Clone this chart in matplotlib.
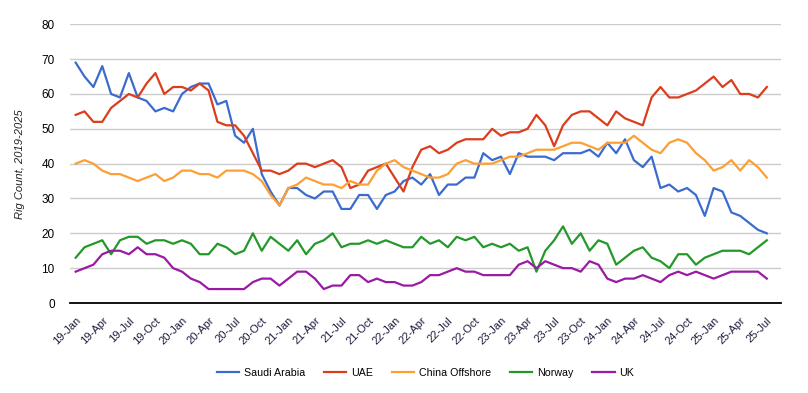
import matplotlib
matplotlib.use("Agg")
import matplotlib.pyplot as plt
import numpy as np

plt.rcParams['font.family'] = ['Liberation Sans', 'DejaVu Sans']

years = list(range(19, 26))
months = ['Jan', 'Feb', 'Mar', 'Apr', 'May', 'Jun', 'Jul', 'Aug', 'Sep', 'Oct', 'Nov', 'Dec']
dates = [f"{y}-{m}" for y in years for m in months][:79]

saudi = [69, 65, 62, 68, 60, 59, 66, 59, 58, 55, 56, 55, 60, 62, 63, 63, 57, 58, 48, 46, 50, 37, 32, 28, 33, 33,
         31, 30, 32, 32, 27, 27, 31, 31, 27, 31, 32, 35, 36, 34, 37, 31, 34, 34, 36, 36, 43, 41, 42, 37, 43, 42,
         42, 42, 41, 43, 43, 43, 44, 42, 46, 43, 47, 41, 39, 42, 33, 34, 32, 33, 31, 25, 33, 32, 26, 25, 23, 21, 20]
uae = [54, 55, 52, 52, 56, 58, 60, 59, 63, 66, 60, 62, 62, 61, 63, 61, 52, 51, 51, 48, 43, 38, 38, 37, 38, 40,
       40, 39, 40, 41, 39, 33, 34, 38, 39, 40, 36, 32, 39, 44, 45, 43, 44, 46, 47, 47, 47, 50, 48, 49, 49, 50,
       54, 51, 45, 51, 54, 55, 55, 53, 51, 55, 53, 52, 51, 59, 62, 59, 59, 60, 61, 63, 65, 62, 64, 60, 60, 59, 62]
china = [40, 41, 40, 38, 37, 37, 36, 35, 36, 37, 35, 36, 38, 38, 37, 37, 36, 38, 38, 38, 37, 35, 31, 28, 33, 34,
         36, 35, 34, 34, 33, 35, 34, 34, 38, 40, 41, 39, 38, 37, 36, 36, 37, 40, 41, 40, 40, 40, 41, 42, 42, 43,
         44, 44, 44, 45, 46, 46, 45, 44, 46, 46, 46, 48, 46, 44, 43, 46, 47, 46, 43, 41, 38, 39, 41, 38, 41, 39, 36]
norway = [13, 16, 17, 18, 14, 18, 19, 19, 17, 18, 18, 17, 18, 17, 14, 14, 17, 16, 14, 15, 20, 15, 19, 17, 15, 18,
          14, 17, 18, 20, 16, 17, 17, 18, 17, 18, 17, 16, 16, 19, 17, 18, 16, 19, 18, 19, 16, 17, 16, 17, 15, 16,
          9, 15, 18, 22, 17, 20, 15, 18, 17, 11, 13, 15, 16, 13, 12, 10, 14, 14, 11, 13, 14, 15, 15, 15, 14, 16, 18]
uk = [9, 10, 11, 14, 15, 15, 14, 16, 14, 14, 13, 10, 9, 7, 6, 4, 4, 4, 4, 4, 6, 7, 7, 5, 7, 9,
      9, 7, 4, 5, 5, 8, 8, 6, 7, 6, 6, 5, 5, 6, 8, 8, 9, 10, 9, 9, 8, 8, 8, 8, 11, 12,
      10, 12, 11, 10, 10, 9, 12, 11, 7, 6, 7, 7, 8, 7, 6, 8, 9, 8, 9, 8, 7, 8, 9, 9, 9, 9, 7]

series = [
    ("Saudi Arabia", saudi, '#3c6bcf'),
    ("UAE", uae, '#db3d1d'),
    ("China Offshore", china, '#fd9f32'),
    ("Norway", norway, '#25982a'),
    ("UK", uk, '#9a1aa4'),
]

fig = plt.figure(figsize=(8.08, 3.93), dpi=100)
ax = fig.add_axes([70/808, 1-303/393, (781-70)/808, (303-24.3)/393])

x = np.arange(len(dates))
for name, vals, col in series:
    ax.plot(x, vals, color=col, lw=1.6, label=name, solid_joinstyle='round')

ax.set_ylim(0, 80)
ax.set_xlim(-0.64, 79.6)
ax.set_yticks(range(0, 81, 10))
ax.grid(axis='y', color='#cccccc', lw=1)
ax.set_axisbelow(True)
for s in ['top', 'right', 'left']:
    ax.spines[s].set_visible(False)
ax.spines['bottom'].set_color('black')
ax.spines['bottom'].set_linewidth(1.3)
ax.spines['bottom'].set_zorder(5)

tick_idx = list(range(0, len(dates), 3))
ax.set_xticks(tick_idx)
ax.set_xticklabels([dates[i] for i in tick_idx], rotation=45, ha='right',
                   rotation_mode='anchor', fontsize=8, color='#1c1c3c')
ax.tick_params(axis='x', length=0, pad=9)
ax.tick_params(axis='y', length=0, pad=11, labelsize=8.5, labelcolor='black')

fig.text(20/808, 1-164/393, "Rig Count, 2019-2025", rotation=90, ha='center', va='center',
         fontsize=8, style='italic', color='#222222')

ax.legend(loc='center', bbox_to_anchor=(0.5, (303-373)/(303-24.3)), ncol=5, frameon=False,
          fontsize=7.7, handlelength=2.1, handletextpad=0.45, columnspacing=1.75)

fig.savefig("out.png", dpi=100)
